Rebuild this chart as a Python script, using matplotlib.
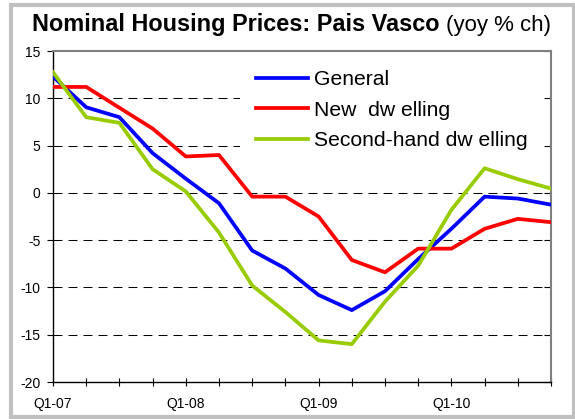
import matplotlib as mpl
import matplotlib.pyplot as plt
from matplotlib.patches import Rectangle
import numpy as np

mpl.rcParams.update({
    "font.family": ["Liberation Sans", "DejaVu Sans"],
    "axes.unicode_minus": False,
})

quarters = [f"Q{q}-{y:02d}" for y in (7, 8, 9, 10) for q in (1, 2, 3, 4)]
general = [12.3, 9.05, 8.0, 4.2, 1.5, -1.1, -6.1, -8.0, -10.8, -12.4, -10.4,
           -7.0, -3.8, -0.4, -0.6, -1.25]
new_dwelling = [11.2, 11.2, 9.0, 6.8, 3.85, 4.0, -0.4, -0.4, -2.5, -7.1, -8.4,
                -5.9, -5.9, -3.8, -2.75, -3.1]
second_hand = [12.75, 8.0, 7.4, 2.5, 0.15, -4.2, -9.8, -12.6, -15.6, -16.0,
               -11.5, -7.7, -1.8, 2.6, 1.45, 0.45]
yticks = [-20, -15, -10, -5, 0, 5, 10, 15]

BLUE, RED, GREEN = "#0000ff", "#ff0000", "#99cc00"
W, H = 575, 419

fig = plt.figure(figsize=(W / 100, H / 100), dpi=100)
ax = fig.add_axes([53 / W, 1 - 382 / H, (551 - 53) / W, (382 - 51) / H])

x = np.arange(len(quarters))
ax.plot(x, general, color=BLUE, lw=2.7, label="General", zorder=3)
ax.plot(x, new_dwelling, color=RED, lw=2.7, label="New  dw elling", zorder=3)
ax.plot(x, second_hand, color=GREEN, lw=2.7, label="Second-hand dw elling", zorder=3)

ax.set_xlim(0, len(quarters) - 1)
ax.set_ylim(-20, 15)
ax.set_yticks(yticks)
ax.set_yticklabels([str(v) for v in yticks])
ax.set_xticks(x)
ax.set_xticklabels([q if q.startswith("Q1") else "" for q in quarters])

# dashed horizontal gridlines, none on the outer limits
for v in yticks[1:-1]:
    ax.axhline(v, color="black", lw=0.75, ls=(0, (8.6, 5.8)), zorder=1)

for side in ("left", "bottom"):
    ax.spines[side].set_color("black")
    ax.spines[side].set_linewidth(1.0)
for side in ("top", "right"):
    ax.spines[side].set_color("#808080")
    ax.spines[side].set_linewidth(1.5)

ax.tick_params(axis="y", direction="out", length=4, width=0.8, pad=5,
               labelsize=10, right=True)
ax.tick_params(axis="x", direction="inout", length=6, width=0.8, pad=8,
               labelsize=10)
for t in ax.yaxis.get_major_ticks():
    t.tick2line.set_marker(mpl.lines.TICKLEFT)
    t.tick2line.set_markersize(5)
    t.tick2line.set_color("#404040")

leg = ax.legend(loc="upper left", bbox_to_anchor=(0.376, 0.99), borderaxespad=0,
                fontsize=15.2, frameon=True, facecolor="white", edgecolor="none",
                framealpha=1, fancybox=False, handlelength=2.45,
                handletextpad=0.28, labelspacing=0.55, borderpad=0.75)
leg.set_zorder(4)

# title: bold name plus unit in regular weight
t1 = fig.text(32 / W, 1 - 31 / H, "Nominal Housing Prices: Pais Vasco",
              fontsize=16.9, fontweight="bold", va="baseline", ha="left")
fig.canvas.draw()
bb = t1.get_window_extent(fig.canvas.get_renderer())
fig.text((bb.x1 + 6) / W, 1 - 31 / H, "(yoy % ch)", fontsize=16,
         va="baseline", ha="left")

fig.patches.append(Rectangle((11 / W, 2 / H), 562.5 / W, 411.5 / H,
                             transform=fig.transFigure, fill=False,
                             edgecolor="#c0c0c0", lw=3))

fig.savefig("out.png", dpi=100)
